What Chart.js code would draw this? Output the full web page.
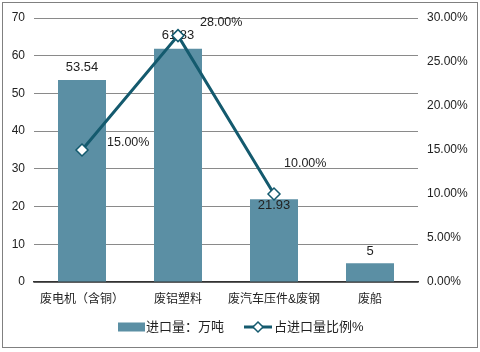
<!DOCTYPE html>
<html><head><meta charset="utf-8">
<script src="https://cdn.jsdelivr.net/npm/chart.js@4/dist/chart.umd.min.js"></script>
<style>html,body{margin:0;padding:0;background:#fff}#wrap{width:480px;height:352px;position:relative}</style>
</head><body><div id="wrap"><canvas id="c"></canvas></div>
<script>
const categories = ['废电机（含铜）', '废铝塑料', '废汽车压件&废钢', '废船'];
const importVolume = [53.54, 61.83, 21.93, 5];
const importShare = [15, 28, 10, null];
const seriesNames = ['进口量：万吨', '占进口量比例%'];
const leftAxis = { min: 0, max: 70, step: 10 };
const rightAxis = { min: 0, max: 30, step: 5 };

const BAR_COLOR = '#5b8fa4';
const LINE_COLOR = '#145a6e';
const TEXT = '#222';
const FONT = '"Liberation Sans", Arial, "Noto Sans CJK SC", sans-serif';

const barLabelDy = [-13, -13, 6, -12];
const lineLabelOff = [[25, -7], [22, -13], [10, -30]];

const deco = {
  id: 'deco',
  beforeDraw(chart) {
    const ctx = chart.ctx;
    ctx.save();
    ctx.fillStyle = '#fff';
    ctx.fillRect(0, 0, chart.width, chart.height);
    ctx.strokeStyle = '#808080';
    ctx.lineWidth = 1;
    ctx.strokeRect(2.5, 2.5, 475, 345);
    ctx.restore();
  },
  afterDatasetDraw(chart, args) {
    if (args.index !== 0) return;
    const ctx = chart.ctx;
    const meta = chart.getDatasetMeta(0);
    ctx.save();
    ctx.font = '13px ' + FONT;
    ctx.fillStyle = TEXT;
    ctx.textAlign = 'center';
    ctx.textBaseline = 'middle';
    meta.data.forEach((el, i) => {
      const v = chart.data.datasets[0].data[i];
      if (v == null) return;
      ctx.fillText(String(v), el.x, el.y + barLabelDy[i]);
    });
    ctx.restore();
  },
  afterDatasetsDraw(chart) {
    const ctx = chart.ctx;
    const meta = chart.getDatasetMeta(1);
    ctx.save();
    ctx.font = '12.5px ' + FONT;
    ctx.fillStyle = TEXT;
    ctx.textAlign = 'left';
    ctx.textBaseline = 'middle';
    meta.data.forEach((el, i) => {
      const v = chart.data.datasets[1].data[i];
      if (v == null || el.skip) return;
      const o = lineLabelOff[i] || [10, -10];
      ctx.fillText(v.toFixed(2) + '%', el.x + o[0], el.y + o[1]);
    });
    ctx.restore();
  },
  afterDraw(chart) {
    const ctx = chart.ctx;
    const ds = chart.data.datasets;
    const cy = 327;
    ctx.save();
    ctx.font = '13px ' + FONT;
    ctx.fillStyle = TEXT;
    ctx.textBaseline = 'middle';
    ctx.textAlign = 'left';
    ctx.fillStyle = ds[0].backgroundColor;
    ctx.fillRect(118, cy - 4.5, 27, 9);
    ctx.fillStyle = TEXT;
    ctx.fillText(ds[0].label, 146, cy);
    ctx.strokeStyle = ds[1].borderColor;
    ctx.lineWidth = 3;
    ctx.beginPath();
    ctx.moveTo(244, cy);
    ctx.lineTo(272, cy);
    ctx.stroke();
    ctx.beginPath();
    ctx.moveTo(258, cy - 5);
    ctx.lineTo(263, cy);
    ctx.lineTo(258, cy + 5);
    ctx.lineTo(253, cy);
    ctx.closePath();
    ctx.fillStyle = '#fff';
    ctx.fill();
    ctx.lineWidth = 1.5;
    ctx.stroke();
    ctx.fillStyle = TEXT;
    ctx.fillText(ds[1].label, 274, cy);
    ctx.restore();
  }
};

new Chart(document.getElementById('c'), {
  data: {
    labels: categories,
    datasets: [
      {
        type: 'bar', label: seriesNames[0], data: importVolume, yAxisID: 'y',
        backgroundColor: BAR_COLOR, borderWidth: 0,
        categoryPercentage: 1, barPercentage: 0.5, order: 2
      },
      {
        type: 'line', label: seriesNames[1], data: importShare, yAxisID: 'y1',
        borderColor: LINE_COLOR, borderWidth: 3, backgroundColor: '#fff',
        pointStyle: 'rectRot', pointRadius: 6, pointBorderWidth: 1.5,
        pointBackgroundColor: '#fff', pointBorderColor: LINE_COLOR,
        tension: 0, spanGaps: false, order: 1
      }
    ]
  },
  options: {
    responsive: true, maintainAspectRatio: false, animation: false,
    devicePixelRatio: 1,
    layout: { padding: { top: 18, bottom: 40, left: 0, right: 0 } },
    plugins: { legend: { display: false }, tooltip: { enabled: false } },
    scales: {
      x: {
        grid: { display: false, drawTicks: false },
        border: { display: true, color: '#333', width: 1.5 },
        ticks: { padding: 10, color: TEXT, font: { size: 12, family: FONT }, maxRotation: 0, autoSkip: false },
        afterFit(s) { s.height = 30; }
      },
      y: {
        position: 'left', min: leftAxis.min, max: leftAxis.max,
        grid: { color: '#8a8a8a', drawTicks: false, lineWidth: 1 },
        border: { display: false },
        ticks: { stepSize: leftAxis.step, padding: 9, color: TEXT, font: { size: 12, family: FONT } },
        afterFit(s) { s.width = 34; }
      },
      y1: {
        position: 'right', min: rightAxis.min, max: rightAxis.max,
        grid: { display: false, drawTicks: false },
        border: { display: false },
        ticks: { stepSize: rightAxis.step, padding: 9, color: TEXT, font: { size: 12, family: FONT },
          callback: v => Number(v).toFixed(2) + '%' },
        afterFit(s) { s.width = 62; }
      }
    }
  },
  plugins: [deco]
});
</script>
</body></html>
